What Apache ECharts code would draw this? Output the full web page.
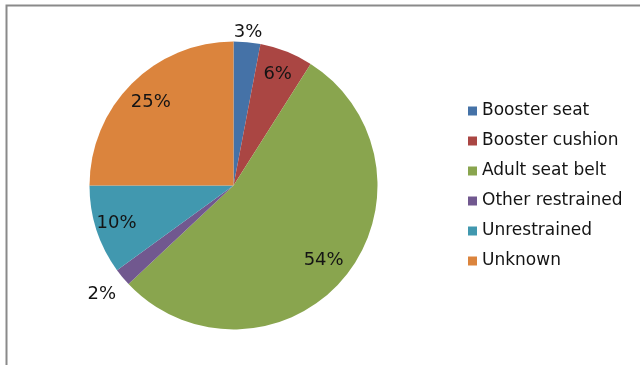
<!DOCTYPE html>
<html>
<head>
<meta charset="utf-8">
<style>
  html, body { margin: 0; padding: 0; background: #ffffff; }
  #chart { width: 640px; height: 365px; }
</style>
<script src="https://cdn.jsdelivr.net/npm/echarts@6/dist/echarts.min.js"></script>
</head>
<body>
<div id="chart"></div>
<script>
// Restraint use shares (percent)
const categories = ['Booster seat', 'Booster cushion', 'Adult seat belt', 'Other restrained', 'Unrestrained', 'Unknown'];
const shares = [3, 6, 54, 2, 10, 25];
const colors = ['#4572A7', '#AA4643', '#89A54E', '#71588F', '#4198AF', '#DB843D'];

const CX = 233.5, CY = 185.5, R = 144;
// distance of each value label from the pie centre (px)
const labelDistance = {
  'Booster seat': 151,
  'Booster cushion': 117,
  'Adult seat belt': 114,
  'Other restrained': 168,
  'Unrestrained': 120,
  'Unknown': 114
};
const labelFont = { fontFamily: 'DejaVu Sans', fontSize: 18, color: '#141414' };

const pieData = categories.map((name, i) => ({
  name: name,
  value: shares[i],
  itemStyle: { color: colors[i] }
}));

// invisible copy of the pie that carries one slice's value label;
// an 'inside' label sits at half the ring radius
function labelRing(target) {
  return {
    type: 'pie',
    silent: true,
    center: [CX, CY],
    radius: [0, labelDistance[target] * 2],
    startAngle: 90,
    clockwise: true,
    legendHoverLink: false,
    itemStyle: { color: 'rgba(0,0,0,0)', borderWidth: 0 },
    emphasis: { disabled: true },
    labelLine: { show: false },
    data: categories.map((name, i) => ({
      name: name,
      value: shares[i],
      label: {
        show: name === target,
        position: 'inside',
        formatter: '{c}%',
        ...labelFont
      }
    }))
  };
}

const chart = echarts.init(document.getElementById('chart'), null, { renderer: 'canvas' });
chart.setOption({
  animation: false,
  backgroundColor: '#ffffff',
  color: colors,
  graphic: [{
    type: 'rect',
    silent: true,
    shape: { x: 6.5, y: 5.5, width: 700, height: 400 },
    style: { fill: 'none', stroke: '#8a8a8a', lineWidth: 2 }
  }],
  legend: {
    orient: 'vertical',
    left: 468,
    top: 101,
    padding: 0,
    itemWidth: 9,
    itemHeight: 9,
    itemGap: 10,
    icon: 'rect',
    selectedMode: false,
    data: categories,
    textStyle: { fontFamily: 'DejaVu Sans', fontSize: 17, color: '#141414', lineHeight: 20 }
  },
  series: [
    {
      type: 'pie',
      center: [CX, CY],
      radius: [0, R],
      startAngle: 90,
      clockwise: true,
      label: { show: false },
      labelLine: { show: false },
      itemStyle: { borderWidth: 0 },
      emphasis: { disabled: true },
      data: pieData
    }
  ].concat(categories.map(labelRing))
});
</script>
</body>
</html>
